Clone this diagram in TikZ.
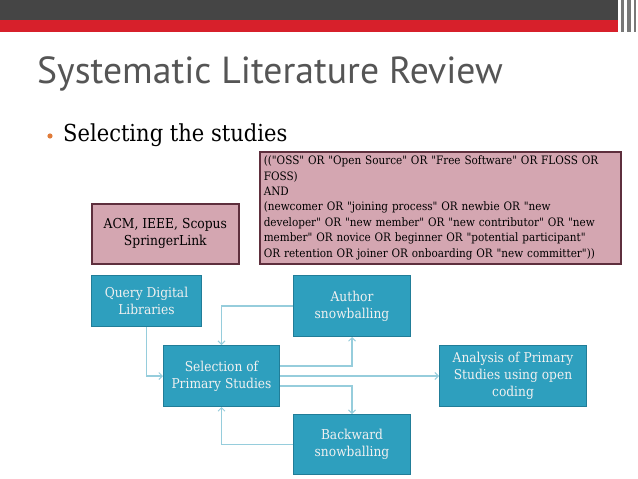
\documentclass[tikz,border=0pt]{standalone}
\usepackage{fontspec}
\setmainfont{DejaVu Serif Condensed}[Ligatures=TeXOff]
\newfontfamily\titlefont{PT Sans}
\usetikzlibrary{arrows.meta}
\definecolor{darkbar}{RGB}{69,69,69}
\definecolor{redbar}{RGB}{215,32,43}
\definecolor{titlegray}{RGB}{85,85,85}
\definecolor{bulletorange}{RGB}{224,123,57}
\definecolor{pinkfill}{RGB}{212,166,177}
\definecolor{pinkdraw}{RGB}{94,47,61}
\definecolor{tealfill}{RGB}{46,159,190}
\definecolor{tealdraw}{RGB}{33,125,152}
\definecolor{connblue}{RGB}{150,205,220}
\definecolor{stripegray}{RGB}{120,120,120}
\tikzset{
  pinkbox/.style={draw=pinkdraw, line width=1.6pt, fill=pinkfill, inner sep=2pt, anchor=north west, text=black},
  tealbox/.style={draw=tealdraw, line width=1pt, fill=tealfill, inner sep=2pt, anchor=north west, text=white!94!black, align=center, font=\fontsize{13.6}{17}\selectfont},
  conn/.style={draw=connblue, line width=1.2pt, -{Straight Barb[length=3.5pt,width=7pt,line width=1pt]}},
}
\begin{document}
\begin{tikzpicture}[x=1pt,y=-1pt]
\useasboundingbox (0,0) rectangle (638,479);
\fill[white] (0,0) rectangle (638,479);
% top bars
\fill[darkbar] (0,0) rectangle (618,20);
\fill[redbar] (0,20) rectangle (618,32);
\fill[stripegray] (621,0) rectangle (624,32);
\fill[stripegray] (627,0) rectangle (631,32);
\fill[stripegray] (634,0) rectangle (636,32);
% title
\node[anchor=base west, inner sep=0, text=titlegray, font=\titlefont\fontsize{37.7}{42}\selectfont] (title) at (37,83) {Systematic Literature Review};
% bullet
\fill[bulletorange] (50,136) circle (2.6);
\node[anchor=base west, inner sep=0, font=\fontsize{23.4}{27}\selectfont] (sub) at (63,141) {Selecting the studies};
% pink boxes
\node[pinkbox, minimum width=147pt, minimum height=60pt, align=center, font=\fontsize{13.7}{17}\selectfont] (dl) at (91,203) {ACM, IEEE, Scopus\\SpringerLink};
\node[pinkbox, inner xsep=4pt, minimum width=361pt, minimum height=112pt, text width=353pt, align=left, font=\fontsize{11.6}{15.4}\selectfont] (qs) at (259,151) {(("OSS" OR "Open Source" OR "Free Software" OR FLOSS OR\\FOSS)\\AND\\(newcomer OR "joining process" OR newbie OR "new\\developer" OR "new member" OR "new contributor" OR "new\\member" OR novice OR beginner OR "potential participant"\\OR retention OR joiner OR onboarding OR "new committer"))};
% teal boxes
\node[tealbox, minimum width=110pt, minimum height=51pt] (q) at (91,275) {Query Digital\\Libraries};
\node[tealbox, minimum width=117pt, minimum height=61pt] (auth) at (293,275) {Author\\snowballing};
\node[tealbox, minimum width=116pt, minimum height=61pt] (sel) at (163,345) {Selection of\\Primary Studies};
\node[tealbox, minimum width=147pt, minimum height=61pt] (ana) at (439,345) {Analysis of Primary\\Studies using open\\coding};
\node[tealbox, minimum width=117pt, minimum height=60pt] (back) at (293,414) {Backward\\snowballing};
% connectors
\draw[conn] (q.south) |- (sel.west);
\draw[conn] (auth.west) -| (sel.north);
\draw[conn] ([yshift=10pt]sel.east) -| (auth.south);
\draw[conn] (sel.east) -- (ana.west);
\draw[conn] ([yshift=-10pt]sel.east) -| (back.north);
\draw[conn] (back.west) -| (sel.south);
\end{tikzpicture}
\end{document}
